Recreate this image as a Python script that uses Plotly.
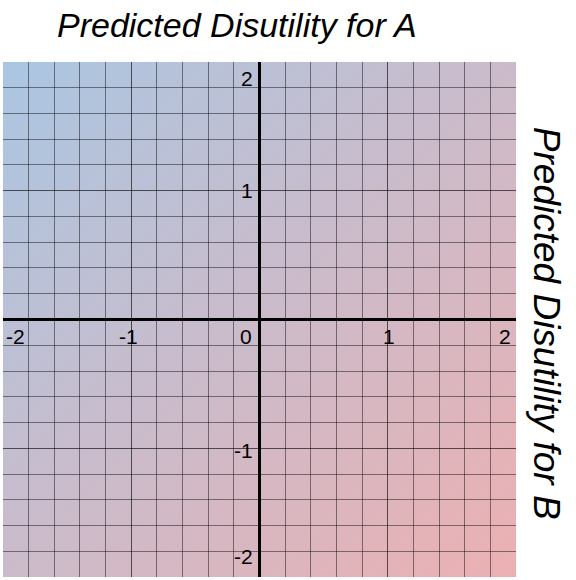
import base64
import plotly.graph_objects as go

# ---- data ----
tick_values = [-2, -1, 0, 1, 2]
x_tick_labels = ["-2", "-1", "0", "1", "2"]
y_tick_labels = ["-2", "-1", "0", "1", "2"]
axis_range = [-2, 2]
title_top = "Predicted Disutility for A"
title_right = "Predicted Disutility for B"
color_top_left = "rgb(170,198,226)"
color_bottom_right = "rgb(236,176,178)"

# ---- background gradient (SVG image) ----
svg = (
    '<svg xmlns="http://www.w3.org/2000/svg" width="200" height="200" '
    'preserveAspectRatio="none" viewBox="0 0 200 200">'
    '<defs><linearGradient id="g" x1="0" y1="0" x2="1" y2="1">'
    f'<stop offset="0" stop-color="{color_top_left}"/>'
    f'<stop offset="1" stop-color="{color_bottom_right}"/>'
    '</linearGradient></defs>'
    '<rect x="0" y="0" width="200" height="200" fill="url(#g)"/></svg>'
)
src = "data:image/svg+xml;base64," + base64.b64encode(svg.encode()).decode()

fig = go.Figure()
fig.add_trace(go.Scatter(x=axis_range, y=axis_range, mode="markers",
                         marker=dict(opacity=0), hoverinfo="skip", showlegend=False))

fig.add_layout_image(dict(source=src, xref="x", yref="y", x=axis_range[0], y=axis_range[1],
                          sizex=axis_range[1] - axis_range[0], sizey=axis_range[1] - axis_range[0],
                          sizing="stretch", layer="below", xanchor="left", yanchor="top"))

inner = [axis_range[0] + 0.001, axis_range[1] - 0.001]
font_family = "Liberation Sans, Arial, sans-serif"
axis_common = dict(
    range=inner, tick0=0, dtick=1, showticklabels=False, ticks="",
    showgrid=True, gridcolor="rgba(0,0,0,0.62)", gridwidth=1.4,
    zeroline=True, zerolinecolor="black", zerolinewidth=2.6,
    showline=False, fixedrange=True,
    minor=dict(dtick=0.2, tick0=0, showgrid=True, gridcolor="rgba(0,0,0,0.45)", gridwidth=1.1),
)

fig.update_layout(
    width=576, height=580,
    margin=dict(l=3, r=60, t=62, b=3),
    paper_bgcolor="white", plot_bgcolor="rgba(0,0,0,0)",
    xaxis=axis_common,
    yaxis=axis_common,
    font=dict(family=font_family, color="black"),
    showlegend=False,
)


def clamp(v):
    return min(max(v, inner[0]), inner[1])


annotations = []
x_label_style = {
    -2: dict(xanchor="left", xshift=1),
    -1: dict(xanchor="center", xshift=-3),
    0: dict(xanchor="right", xshift=-6),
    1: dict(xanchor="center", xshift=1),
    2: dict(xanchor="right", xshift=-3),
}
for v, t in zip(tick_values, x_tick_labels):
    st = x_label_style[v]
    annotations.append(dict(x=clamp(v), y=0, xref="x", yref="y", text=t, showarrow=False,
                            yanchor="top", yshift=-3, font=dict(size=21), **st))
y_label_style = {
    -2: dict(yanchor="bottom", yshift=7),
    -1: dict(yanchor="middle", yshift=-2),
    1: dict(yanchor="middle", yshift=0),
    2: dict(yanchor="top", yshift=-3),
}
for v, t in zip(tick_values, y_tick_labels):
    if v == 0:
        continue
    st = y_label_style[v]
    annotations.append(dict(x=0, y=clamp(v), xref="x", yref="y", text=t, showarrow=False,
                            xanchor="right", xshift=-5, font=dict(size=21), **st))

annotations.append(dict(x=0.457, y=1.072, xref="paper", yref="paper", text=f"<i>{title_top}</i>",
                        showarrow=False, xanchor="center", yanchor="middle",
                        font=dict(size=34)))
annotations.append(dict(x=1.060, y=0.492, xref="paper", yref="paper", text=f"<i>{title_right}</i>",
                        showarrow=False, xanchor="center", yanchor="middle", textangle=90,
                        font=dict(size=37)))
fig.update_layout(annotations=annotations)

fig.write_html("out.html", config={"displayModeBar": False},
               post_script="document.body.style.margin='0';")
